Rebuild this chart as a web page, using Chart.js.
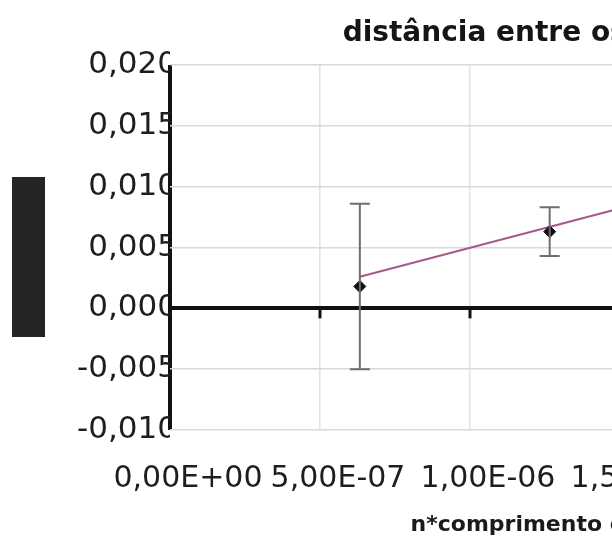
<!DOCTYPE html>
<html lang="pt">
<head>
<meta charset="utf-8">
<title>distância entre os máximos</title>
<script src="https://cdn.jsdelivr.net/npm/chart.js@4/dist/chart.umd.min.js"></script>
<style>
  html, body { margin: 0; padding: 0; background: #ffffff; overflow: hidden; }
  #quadro { position: absolute; left: 0; top: 0; width: 1100px; height: 542px; }
</style>
</head>
<body>
<div id="quadro"><canvas id="grafico" width="1100" height="542"></canvas></div>
<script>
// Medidas: n*comprimento de onda (m) e distância (m), com incerteza
const xPontos = [6.328e-7, 1.2656e-6];
const yPontos = [0.0018, 0.0063];
const erroY = [0.0068, 0.0020];

// Linha de tendência (extremos)
const xTendencia = [6.328e-7, 1.8984e-6];
const yTendencia = [0.0026, 0.0108];

// Rótulos dos eixos
const xRotulos = ["0,00E+00", "5,00E-07", "1,00E-06", "1,50E-06", "2,00E-06", "2,50E-06", "2,60E-06"];
const yRotulos = ["-0,010", "-0,005", "0,000", "0,005", "0,010", "0,015", "0,020"];

const tituloGrafico = "distância entre os máximos";
const tituloX = "n*comprimento de onda";

// Barras de erro verticais com traços nas pontas
const barrasErro = {
  id: 'barrasErro',
  afterDatasetsDraw(chart) {
    const { ctx, scales: { x, y } } = chart;
    ctx.save();
    ctx.strokeStyle = '#6e6e6e';
    ctx.lineWidth = 2;
    xPontos.forEach((xv, i) => {
      const px = x.getPixelForValue(xv);
      const pTopo = y.getPixelForValue(yPontos[i] + erroY[i]);
      const pBase = y.getPixelForValue(yPontos[i] - erroY[i]);
      ctx.beginPath();
      ctx.moveTo(px, pTopo); ctx.lineTo(px, pBase);
      ctx.moveTo(px - 10, pTopo); ctx.lineTo(px + 10, pTopo);
      ctx.moveTo(px - 10, pBase); ctx.lineTo(px + 10, pBase);
      ctx.stroke();
    });
    ctx.restore();
  }
};

// Marcas de divisão sob o eixo horizontal que cruza em zero
const marcasEixo = {
  id: 'marcasEixo',
  beforeDatasetsDraw(chart) {
    const { ctx, scales: { x, y } } = chart;
    const y0 = y.getPixelForValue(0);
    ctx.save();
    ctx.strokeStyle = '#111111';
    ctx.lineWidth = 3;
    x.ticks.forEach(t => {
      if (t.value <= 0) return;
      const px = x.getPixelForValue(t.value);
      ctx.beginPath();
      ctx.moveTo(px, y0);
      ctx.lineTo(px, y0 + 10);
      ctx.stroke();
    });
    ctx.restore();
  }
};

// Caixa escura do título do eixo vertical
const caixaEixoY = {
  id: 'caixaEixoY',
  afterDraw(chart) {
    const { ctx } = chart;
    ctx.save();
    ctx.fillStyle = '#242424';
    ctx.fillRect(12, 177, 33, 160);
    ctx.restore();
  }
};

new Chart(document.getElementById('grafico'), {
  type: 'scatter',
  data: {
    datasets: [
      {
        label: 'distância',
        data: xPontos.map((v, i) => ({ x: v, y: yPontos[i] })),
        showLine: false,
        pointStyle: 'rectRot',
        pointRadius: 6,
        pointBackgroundColor: '#111111',
        pointBorderColor: '#111111',
        order: 1
      },
      {
        label: 'Linear (distância)',
        data: xTendencia.map((v, i) => ({ x: v, y: yTendencia[i] })),
        showLine: true,
        borderColor: '#a8588a',
        borderWidth: 2,
        pointRadius: 0,
        fill: false,
        order: 2
      }
    ]
  },
  options: {
    responsive: false,
    animation: false,
    devicePixelRatio: 1,
    layout: { padding: { left: 0, right: 150, top: 0, bottom: 0 } },
    plugins: {
      legend: { display: false },
      tooltip: { enabled: false },
      title: {
        display: true,
        text: tituloGrafico,
        fullSize: false,
        color: '#151515',
        font: { family: 'DejaVu Sans', size: 28, weight: 'bold', lineHeight: 1.2 },
        padding: { top: 17, bottom: 14.4 }
      }
    },
    scales: {
      x: {
        type: 'linear',
        min: 0,
        max: 2.6e-6,
        afterFit(s) { s.height = 112; },
        border: { display: false },
        grid: {
          drawTicks: false,
          color: c => (c.tick && c.tick.value === 0) ? '#111111' : '#dde2ee',
          lineWidth: c => (c.tick && c.tick.value === 0) ? 4 : 1.5
        },
        ticks: {
          stepSize: 5e-7,
          color: '#1e1e1e',
          padding: 31,
          labelOffset: 18,
          maxRotation: 0,
          autoSkip: false,
          font: { family: 'DejaVu Sans', size: 30 },
          callback: (v, i) => xRotulos[i]
        },
        title: {
          display: true,
          text: tituloX,
          color: '#1a1a1a',
          font: { family: 'DejaVu Sans', size: 22, weight: 'bold', lineHeight: 1.2 },
          padding: { top: 0, bottom: 4 }
        }
      },
      y: {
        type: 'linear',
        min: -0.01,
        max: 0.02,
        afterFit(s) { s.width = 170; },
        border: { display: false },
        grid: {
          drawTicks: false,
          color: c => (c.tick && Math.abs(c.tick.value) < 1e-9) ? '#111111' : '#d9d9d9',
          lineWidth: c => (c.tick && Math.abs(c.tick.value) < 1e-9) ? 4 : 1.5
        },
        ticks: {
          stepSize: 0.005,
          color: '#1e1e1e',
          padding: -7,
          font: { family: 'DejaVu Sans', size: 31 },
          callback: (v, i) => yRotulos[i]
        }
      }
    }
  },
  plugins: [barrasErro, marcasEixo, caixaEixoY]
});
</script>
</body>
</html>
